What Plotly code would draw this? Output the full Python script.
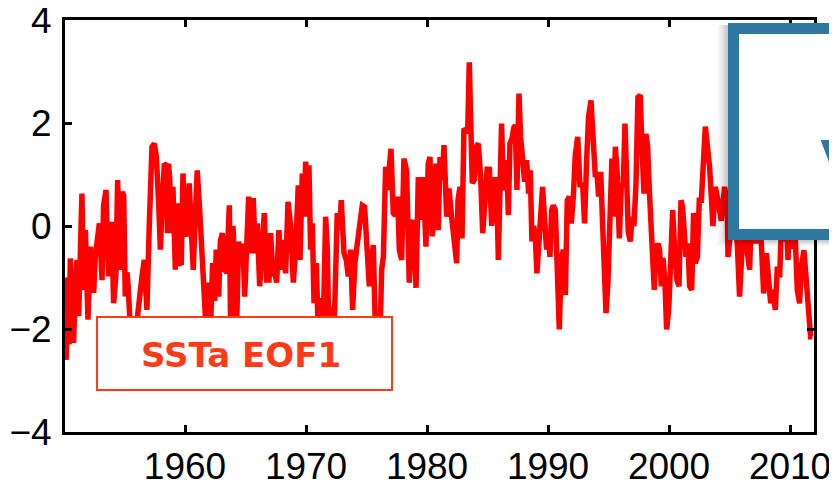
import plotly.graph_objects as go

# ---- data ----
years = [
    1950.08, 1950.17, 1950.3, 1950.42, 1950.52, 1950.65, 1950.79, 1950.93, 1951.07, 1951.21,
    1951.35, 1951.48, 1951.62, 1951.76, 1951.98, 1952.08, 1952.17, 1952.31, 1952.45, 1952.58,
    1952.72, 1952.92, 1953.03, 1953.14, 1953.27, 1953.47, 1953.58, 1953.69, 1953.8, 1953.91,
    1954.0, 1954.1, 1954.29, 1954.43, 1954.55, 1954.65, 1954.79, 1954.93, 1955.06, 1955.2,
    1955.28, 1955.42, 1955.55, 1955.7, 1955.9, 1956.05, 1956.22, 1956.44, 1956.63, 1956.85,
    1957.05, 1957.27, 1957.46, 1957.63, 1957.82, 1957.96, 1958.1, 1958.29, 1958.45, 1958.55,
    1958.63, 1958.73, 1958.87, 1959.0, 1959.2, 1959.36, 1959.55, 1959.69, 1959.83, 1960.02,
    1960.19, 1960.35, 1960.52, 1960.68, 1960.85, 1961.01, 1961.21, 1961.34, 1961.56, 1961.76,
    1961.95, 1962.12, 1962.28, 1962.45, 1962.58, 1962.78, 1962.92, 1963.08, 1963.27, 1963.44,
    1963.66, 1963.77, 1963.96, 1964.1, 1964.24, 1964.43, 1964.6, 1964.79, 1964.93, 1965.12,
    1965.26, 1965.42, 1965.64, 1965.81, 1965.97, 1966.17, 1966.36, 1966.55, 1966.74, 1966.94,
    1967.07, 1967.27, 1967.35, 1967.57, 1967.76, 1967.96, 1968.12, 1968.31, 1968.51, 1968.73,
    1968.95, 1969.14, 1969.36, 1969.5, 1969.69, 1969.83, 1969.97, 1970.1, 1970.24, 1970.38,
    1970.52, 1970.66, 1970.85, 1971.01, 1971.21, 1971.4, 1971.62, 1971.76, 1971.9, 1972.09,
    1972.31, 1972.58, 1972.78, 1972.91, 1973.14, 1973.33, 1973.49, 1973.69, 1973.85, 1974.04,
    1974.24, 1974.46, 1974.65, 1974.84, 1975.04, 1975.23, 1975.39, 1975.56, 1975.75, 1975.95,
    1976.11, 1976.25, 1976.39, 1976.58, 1976.72, 1976.85, 1977.02, 1977.21, 1977.4, 1977.57,
    1977.71, 1977.9, 1978.09, 1978.31, 1978.53, 1978.73, 1978.86, 1979.09, 1979.28, 1979.47,
    1979.69, 1979.91, 1980.1, 1980.24, 1980.43, 1980.57, 1980.74, 1980.93, 1981.07, 1981.26,
    1981.4, 1981.62, 1981.81, 1982.03, 1982.23, 1982.45, 1982.56, 1982.72, 1982.89, 1983.05,
    1983.22, 1983.36, 1983.49, 1983.6, 1983.74, 1983.91, 1984.07, 1984.24, 1984.43, 1984.6,
    1984.79, 1984.98, 1985.01, 1985.15, 1985.34, 1985.48, 1985.61, 1985.75, 1985.89, 1986.05,
    1986.16, 1986.3, 1986.44, 1986.58, 1986.72, 1986.85, 1987.02, 1987.18, 1987.29, 1987.43,
    1987.6, 1987.73, 1987.9, 1988.07, 1988.23, 1988.4, 1988.53, 1988.67, 1988.81, 1988.95,
    1989.08, 1989.22, 1989.39, 1989.55, 1989.75, 1989.88, 1990.02, 1990.16, 1990.3, 1990.43,
    1990.6, 1990.77, 1990.93, 1991.1, 1991.26, 1991.43, 1991.59, 1991.76, 1991.92, 1992.09,
    1992.25, 1992.45, 1992.64, 1992.86, 1993.02, 1993.19, 1993.35, 1993.55, 1993.77, 1993.91,
    1994.04, 1994.18, 1994.35, 1994.51, 1994.65, 1994.79, 1994.95, 1995.12, 1995.28, 1995.45,
    1995.56, 1995.72, 1995.89, 1996.05, 1996.22, 1996.36, 1996.5, 1996.63, 1996.8, 1996.94,
    1997.1, 1997.27, 1997.43, 1997.62, 1997.76, 1997.93, 1998.09, 1998.23, 1998.37, 1998.51,
    1998.64, 1998.78, 1998.92, 1999.08, 1999.22, 1999.36, 1999.5, 1999.66, 1999.8, 1999.97,
    2000.13, 2000.3, 2000.46, 2000.65, 2000.82, 2000.99, 2001.12, 2001.26, 2001.4, 2001.56,
    2001.7, 2001.87, 2002.03, 2002.17, 2002.34, 2002.5, 2002.67, 2003.0, 2003.35, 2003.63,
    2003.82, 2004.04, 2004.32, 2004.59, 2004.81, 2004.87, 2005.01, 2005.28, 2005.64, 2005.83,
    2006.03, 2006.25, 2006.38, 2006.66, 2006.8, 2006.94, 2007.13, 2007.35, 2007.54, 2007.68,
    2007.82, 2008.04, 2008.23, 2008.4, 2008.59, 2008.78, 2008.95, 2009.14, 2009.33, 2009.47,
    2009.61, 2009.83, 2010.05, 2010.24, 2010.38, 2010.6, 2010.79, 2010.93, 2011.15, 2011.34,
    2011.53, 2011.7, 2011.85,
]

sst_eof1 = [
    -1.0, -2.6, -1.4, -2.3, -0.63, -1.5, -2.27, -1.2, -0.66, -1.75,
    -0.2, 0.63, -1.24, -0.08, -1.82, -0.9, -0.4, -0.9, -1.3, -0.6,
    -0.34, 0.05, -0.5, -1.05, 0.4, 0.7, -0.3, -0.98, -0.2, 0.08,
    -0.6, -1.5, -0.95, 0.89, -0.2, -0.85, 0.66, 0.6, -1.37, -0.9,
    -1.1, -1.9, -2.3, -2.1, -2.4, -1.8, -1.3, -0.98, -0.66, -1.63,
    0.05, 1.54, 1.6, 1.34, 0.44, -0.46, 0.37, 1.21, 1.18, -0.14,
    1.21, 0.95, -0.14, 0.76, -0.85, 0.44, -0.72, -0.75, 1.02, -0.08,
    -0.2, 0.83, -0.08, -0.85, 0.18, 1.08, 0.31, -0.4, -1.5, -2.1,
    -1.1, -1.9, -0.72, -1.46, -0.46, -1.37, -0.3, -0.14, -0.85, -0.9,
    0.4, -2.1, 0.0, -0.72, -2.2, -0.3, -0.72, -0.34, -1.37, -0.46,
    0.57, -0.53, 0.54, -0.53, 0.05, -1.17, -0.46, 0.25, -1.05, -1.05,
    -0.14, -0.98, -0.79, -1.1, -0.08, -0.85, -0.27, -0.92, 0.47, 0.0,
    -1.1, -0.46, 0.79, -0.66, 1.02, 0.18, 1.25, 0.18, 1.18, -0.46,
    0.05, -1.5, -0.72, -2.1, -1.4, -2.2, 0.18, -0.46, -2.3, -1.56,
    -2.1, 0.25, -0.08, 0.5, -0.53, -0.66, -0.98, -0.46, -1.63, -0.72,
    -0.34, 0.05, 0.4, 0.37, -0.34, -1.17, -0.72, -0.37, -2.2, -1.9,
    -2.2, -0.85, -0.6, 1.15, 0.7, 1.0, 1.5, 0.25, 0.2, 0.57,
    -0.46, -0.66, 1.31, 1.08, -1.1, 0.0, 0.12, -1.2, 0.95, 0.12,
    0.95, -0.4, 1.21, 1.34, -0.2, 0.25, 1.21, -0.08, 1.34, 0.9,
    1.57, 0.18, 0.73, 0.18, -0.27, -0.72, 0.5, 0.76, -0.24, 1.89,
    1.86, 1.8, 3.18, 2.1, 0.83, 0.9, 1.54, 1.6, 0.95, -0.14,
    0.7, 1.15, 0.57, 1.15, 0.0, 0.95, 0.05, 0.95, -0.66, 1.21,
    1.99, 0.83, 0.7, 1.28, 0.21, 1.6, 1.7, 1.92, 1.95, 0.7,
    2.57, 1.73, 1.28, 0.86, 1.28, 0.63, 1.08, -0.3, 0.0, -0.2,
    -0.92, -0.46, 0.44, 0.76, 0.0, -0.46, -0.1, -0.6, 0.31, 0.4,
    0.31, -0.98, -2.01, -0.66, -0.46, -1.34, 0.5, 0.57, 0.05, 0.57,
    1.37, 1.73, 0.76, 0.83, 0.05, 1.28, 2.12, 2.44, 1.34, 0.95,
    1.05, 0.57, 1.05, -0.2, -1.24, -1.69, -1.1, 0.63, 1.31, 0.18,
    1.54, 1.02, -0.24, 0.76, 0.83, 1.99, 0.4, -0.11, -0.3, 0.18,
    0.0, 0.83, 2.5, 2.54, 1.54, 0.63, 1.79, 1.54, 0.7, -0.08,
    -0.34, -1.24, -0.46, -0.34, -0.46, -1.17, -0.62, -1.1, -2.01, -1.63,
    -0.72, 0.31, -0.46, -1.05, -1.17, 0.5, 0.37, -0.3, -0.6, -0.34,
    -1.17, -1.24, 0.25, -0.72, -0.6, 0.5, 0.5, 1.93, 1.15, 0.0,
    0.76, 0.5, 0.1, 0.76, 0.4, -0.6, -0.34, 0.3, -0.34, -1.37,
    -0.47, 0.4, -0.34, -0.85, 0.2, -0.34, 0.7, -0.34, 0.1, -0.66,
    -1.31, -0.53, -1.1, -1.5, -1.24, -1.63, -0.79, -1.0, 0.3, -0.3,
    0.6, -0.66, 0.5, -0.45, 0.1, -1.24, -1.5, -0.79, -0.47, -1.05,
    -1.7, -2.15, -2.15,
]

x_tick_vals = [1960, 1970, 1980, 1990, 2000, 2010]
y_tick_vals = [-4, -2, 0, 2, 4]
label_text = "SSTa EOF1"
side_text = "V"

# ---- layout geometry (page pixels; the html body adds an 8 px offset) ----
OFF = 8
W, H = 837 - OFF, 487 - OFF
L, R, T, B = 65 - OFF, 814 - OFF, 20 - OFF, 432 - OFF


def px(xp):  # page x pixel -> paper fraction
    return (xp - OFF - L) / (R - L)


def py(yp):  # page y pixel -> paper fraction
    return (B - (yp - OFF)) / (B - T)


fig = go.Figure()
fig.add_trace(go.Scatter(
    x=years, y=sst_eof1, mode="lines",
    line=dict(color="#FF0000", width=5.5),
    hoverinfo="skip", showlegend=False,
))

blue = "#2E77A0"
orange = "#FF3A17"
shapes = []
# soft shadow of the blue panel
for i, op in enumerate([0.04, 0.05, 0.06, 0.07]):
    d = 10 - i * 2.5
    shapes.append(dict(type="rect", xref="paper", yref="paper", layer="above",
                       x0=px(728 - d), x1=px(900), y0=py(240 + d * 0.6), y1=py(25),
                       line=dict(width=0), fillcolor=f"rgba(0,0,0,{op})"))
# blue panel
shapes.append(dict(type="rect", xref="paper", yref="paper", layer="above",
                   x0=px(733.5), x1=px(905), y0=py(234.5), y1=py(28.5),
                   line=dict(color=blue, width=11), fillcolor="white"))
# SSTa EOF1 box
shapes.append(dict(type="rect", xref="paper", yref="paper", layer="above",
                   x0=px(97), x1=px(392), y0=py(390), y1=py(317),
                   line=dict(color=orange, width=2), fillcolor="white"))

annotations = [
    dict(xref="paper", yref="paper", x=px(241), y=py(355), text=f"<b>{label_text}</b>",
         showarrow=False, xanchor="center", yanchor="middle",
         font=dict(family="DejaVu Sans", size=34, color=orange)),
    dict(xref="paper", yref="paper", x=px(818), y=py(172), text=side_text,
         showarrow=False, xanchor="left", yanchor="middle",
         font=dict(family="DejaVu Sans", size=82, color=blue)),
]

axis_common = dict(
    showline=True, linecolor="black", linewidth=3, mirror="ticks",
    ticks="inside", ticklen=7, tickwidth=3, tickcolor="black",
    showgrid=False, zeroline=False, ticklabeloverflow="allow",
    tickfont=dict(family="Liberation Sans, Arial", size=37, color="black"),
)

fig.update_layout(
    width=W, height=H,
    margin=dict(l=L, r=W - R, t=T, b=H - B, autoexpand=False),
    paper_bgcolor="white", plot_bgcolor="white",
    xaxis=dict(range=[1950.08, 2011.98], tickvals=x_tick_vals,
               ticktext=[str(v) for v in x_tick_vals], ticklabelstandoff=0,
               **axis_common),
    yaxis=dict(range=[-4, 4], tickvals=y_tick_vals, ticklabelstandoff=3,
               **axis_common),
    shapes=shapes, annotations=annotations,
)

fig.write_html("out.html")
